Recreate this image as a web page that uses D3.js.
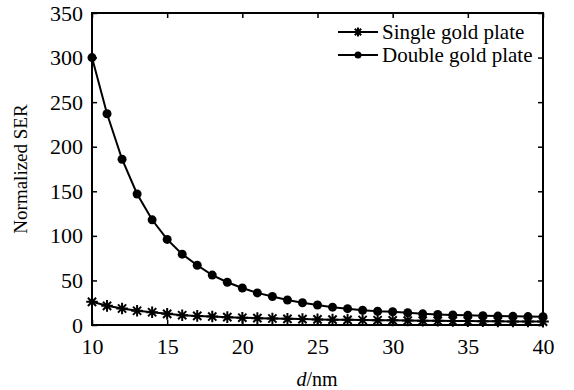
<!DOCTYPE html>
<html><head><meta charset="utf-8">
<script src="https://cdn.jsdelivr.net/npm/d3@7"></script>
<style>body{margin:0;background:#fff}svg{display:block}</style>
</head><body><svg id="c" width="574" height="390" font-family="Liberation Serif, Times New Roman, serif"></svg>
<script>
const dValues = [10,11,12,13,14,15,16,17,18,19,20,21,22,23,24,25,26,27,28,29,30,31,32,33,34,35,36,37,38,39,40];
const singleSER = [26,21.5,18.5,16,14.3,12.5,11,10.2,9.5,8.8,8.2,7.7,7.3,6.9,6.6,6.3,6,5.8,5.6,5.4,5.2,5,4.8,4.7,4.5,4.4,4.3,4.1,4,3.9,3.8];
const doubleSER = [300,237,186,147,118,96,79.5,67,56,48,41.5,36,32,28,25,22.4,20,18.3,16.5,15.4,14.8,13.8,12.5,11.8,11.2,10.8,10.4,10,9.7,9.4,9.2];
const xTicks = [10,15,20,25,30,35,40];
const yTicks = [0,50,100,150,200,250,300,350];
const seriesNames = ["Single gold plate","Double gold plate"];

const FONT = "Liberation Serif, Times New Roman, serif";
const svg = d3.select("#c");
const m = {l:92, r:543, t:13, b:325};
const x = d3.scaleLinear().domain([10,40]).range([m.l,m.r]);
const y = d3.scaleLinear().domain([0,350]).range([m.b,m.t]);

const gx = svg.append("g").attr("transform",`translate(0,${m.b})`)
  .call(d3.axisBottom(x).tickValues(xTicks).tickSizeInner(-5).tickSizeOuter(0).tickPadding(13));
const gy = svg.append("g").attr("transform",`translate(${m.l},0)`)
  .call(d3.axisLeft(y).tickValues(yTicks).tickSizeInner(-5).tickSizeOuter(0).tickPadding(9));
const gt = svg.append("g").attr("transform",`translate(0,${m.t})`)
  .call(d3.axisTop(x).tickValues(xTicks).tickSizeInner(-5).tickSizeOuter(0).tickFormat(""));
const gr = svg.append("g").attr("transform",`translate(${m.r},0)`)
  .call(d3.axisRight(y).tickValues(yTicks).tickSizeInner(-5).tickSizeOuter(0).tickFormat(""));
[gx,gy,gt,gr].forEach(g=>{
  g.attr("font-family",FONT).attr("font-size",22);
  g.select(".domain").remove();
  g.selectAll("line").attr("stroke","#000").attr("stroke-width",1.5);
  g.selectAll("text").attr("fill","#000");
});
svg.append("rect").attr("x",m.l).attr("y",m.t).attr("width",m.r-m.l).attr("height",m.b-m.t)
  .attr("fill","none").attr("stroke","#000").attr("stroke-width",2);

const line = d3.line().x((d,i)=>x(dValues[i])).y(d=>y(d));
svg.append("path").datum(doubleSER).attr("d",line).attr("fill","none").attr("stroke","#000").attr("stroke-width",2);
svg.append("path").datum(singleSER).attr("d",line).attr("fill","none").attr("stroke","#000").attr("stroke-width",2);

svg.append("g").selectAll("circle").data(doubleSER).join("circle")
  .attr("cx",(d,i)=>x(dValues[i])).attr("cy",d=>y(d)).attr("r",4.5).attr("fill","#000");

function asterisk(g,cx,cy,s){
  const p = d3.path();
  for(let k=0;k<4;k++){const a=k*Math.PI/4;p.moveTo(cx-s*Math.cos(a),cy-s*Math.sin(a));p.lineTo(cx+s*Math.cos(a),cy+s*Math.sin(a));}
  g.append("path").attr("d",p.toString()).attr("stroke","#000").attr("stroke-width",2).attr("fill","none");
}
const gs = svg.append("g");
singleSER.forEach((d,i)=>asterisk(gs,x(dValues[i]),y(d),5.8));

const lg = svg.append("g").attr("font-family",FONT);
const ly = [32,55];
lg.append("line").attr("x1",338).attr("x2",378).attr("y1",ly[0]).attr("y2",ly[0]).attr("stroke","#000").attr("stroke-width",2);
asterisk(lg,358,ly[0],4.5);
lg.append("line").attr("x1",338).attr("x2",378).attr("y1",ly[1]).attr("y2",ly[1]).attr("stroke","#000").attr("stroke-width",2);
lg.append("circle").attr("cx",358).attr("cy",ly[1]).attr("r",3.5).attr("fill","#000");
seriesNames.forEach((n,i)=>lg.append("text").attr("x",382).attr("y",ly[i]+7).attr("font-size",21).text(n));

svg.append("text").attr("font-family",FONT).attr("font-size",19)
  .attr("transform","translate(27,169) rotate(-90)").attr("text-anchor","middle").text("Normalized SER");
const xl = svg.append("text").attr("font-family",FONT).attr("x",317).attr("y",386).attr("text-anchor","middle").attr("font-size",20);
xl.append("tspan").attr("font-style","italic").text("d");
xl.append("tspan").text("/nm");
</script></body></html>
